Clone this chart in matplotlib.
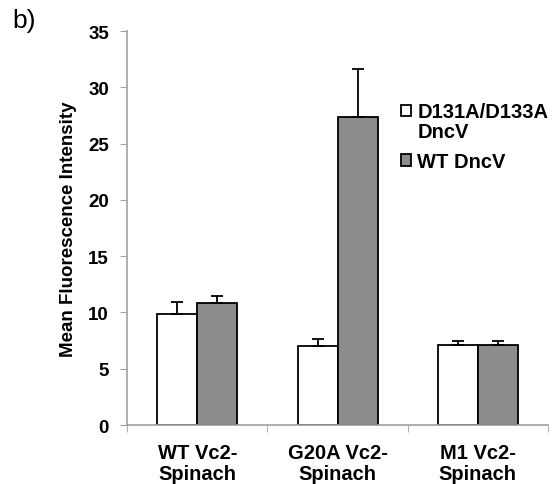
import matplotlib.pyplot as plt
import numpy as np

plt.rcParams['font.family'] = ['Liberation Sans', 'DejaVu Sans']
plt.rcParams['font.weight'] = 'bold'

categories = ['WT Vc2-\nSpinach', 'G20A Vc2-\nSpinach', 'M1 Vc2-\nSpinach']
series = ['D131A/D133A\nDncV', 'WT DncV']
mutant_mean = [9.9, 7.0, 7.1]
mutant_err = [1.0, 0.6, 0.4]
wt_mean = [10.8, 27.4, 7.1]
wt_err = [0.7, 4.2, 0.4]

fig = plt.figure(figsize=(5.53, 4.85), dpi=100)
ax = fig.add_axes([0.2297, 0.1216, 0.7613, 0.8124])

x = np.arange(len(categories))
w = 0.285
gray = '#8c8c8c'
ekw = dict(ecolor='black', elinewidth=1.3, capsize=4, capthick=1.3)
ax.bar(x - w / 2, mutant_mean, w, yerr=[[0] * 3, mutant_err], color='white',
       edgecolor='black', linewidth=1.3, label=series[0], error_kw=ekw)
ax.bar(x + w / 2, wt_mean, w, yerr=[[0] * 3, wt_err], color=gray,
       edgecolor='black', linewidth=1.3, label=series[1], error_kw=ekw)

ax.set_xlim(-0.5, 2.5)
ax.set_ylim(0, 35)
ax.set_yticks(range(0, 36, 5))
ax.set_xticks(x)
ax.set_xticklabels(categories, fontsize=14.5, fontweight='bold', linespacing=1.1)
ax.set_xticks([-0.5, 0.5, 1.5, 2.5], minor=True)
ax.tick_params(axis='x', which='major', length=0, pad=13)
ax.tick_params(axis='x', which='minor', length=5, color='#a0a0a0')
ax.tick_params(axis='y', length=5, color='#a0a0a0', labelsize=13.5, pad=8)
for lbl in ax.get_yticklabels():
    lbl.set_fontweight('bold')

for side in ['top', 'right']:
    ax.spines[side].set_visible(False)
for side in ['left', 'bottom']:
    ax.spines[side].set_color('#a0a0a0')
    ax.spines[side].set_linewidth(1.2)

ax.set_ylabel('Mean Fluorescence Intensity', fontsize=13.5, fontweight='bold', labelpad=8)

leg = ax.legend(loc='upper left', bbox_to_anchor=(0.632, 0.84), frameon=False,
                prop=dict(size=14.5, weight='bold'), handlelength=0.5, handleheight=0.5,
                handletextpad=0.3, labelspacing=0.55, borderaxespad=0)
for t in leg.get_texts():
    t.set_linespacing(1.05)
# put the first swatch beside the first line of its two-line label
h0 = leg.legend_handles[0]
h0.set_y(h0.get_y() + 8)

fig.text(0.022, 0.982, 'b)', fontsize=19, fontweight='normal', va='top')

fig.savefig('out.png', dpi=100)
